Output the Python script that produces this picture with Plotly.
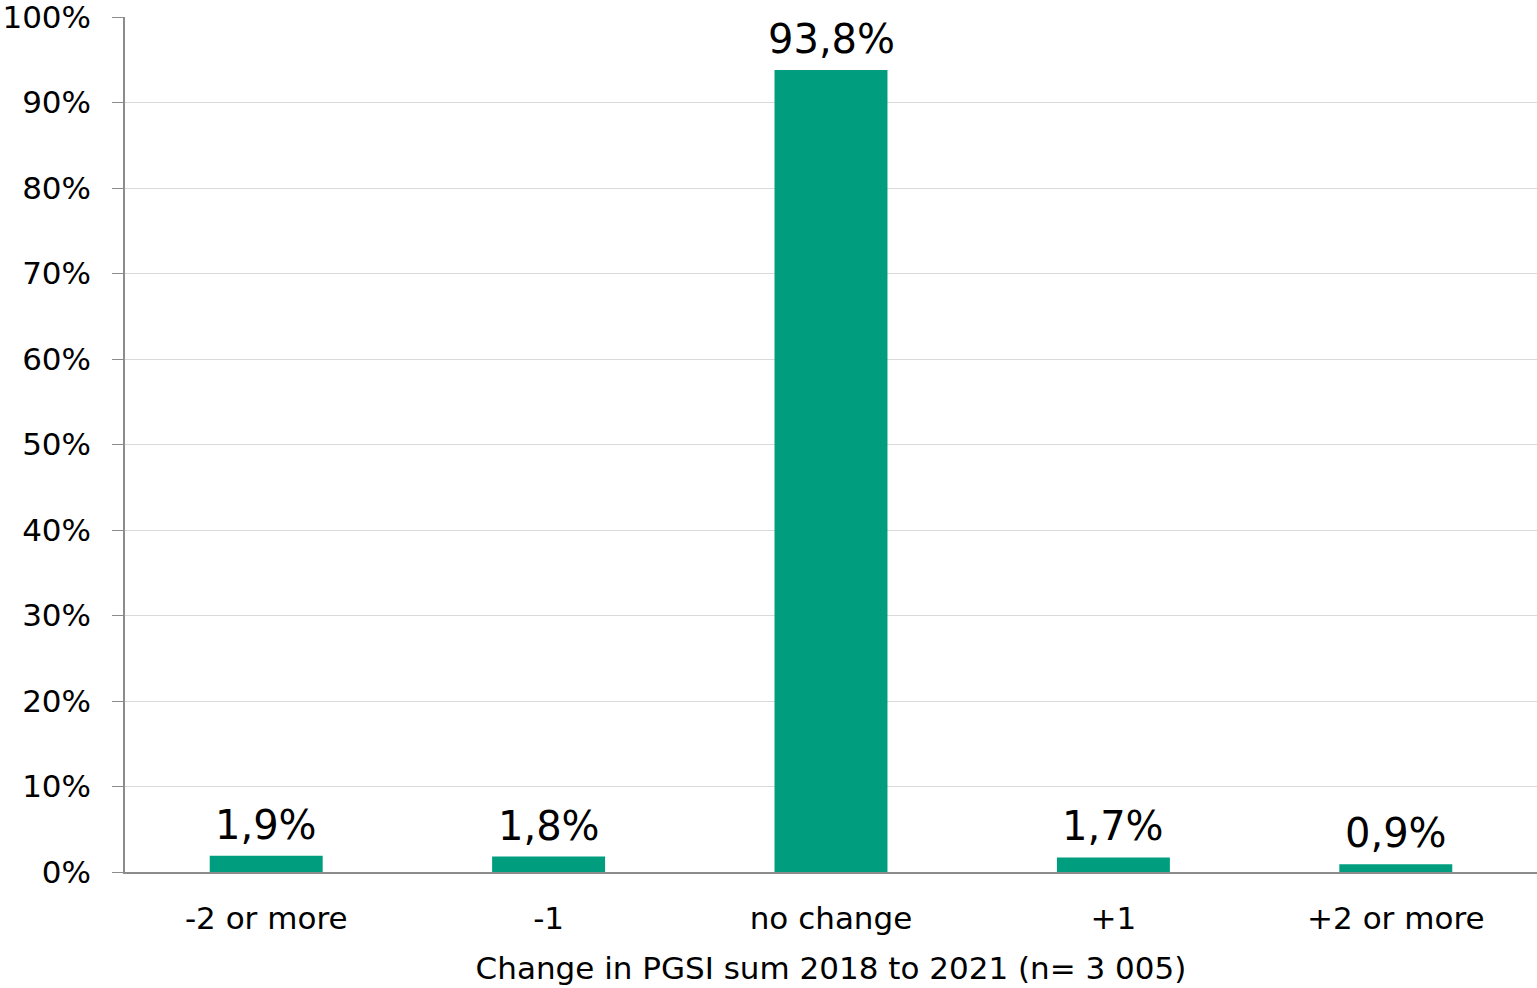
import plotly.graph_objects as go

categories = ["-2 or more", "-1", "no change", "+1", "+2 or more"]
shares = [1.9, 1.8, 93.8, 1.7, 0.9]
y_ticks = [0, 10, 20, 30, 40, 50, 60, 70, 80, 90, 100]

labels = [f"{v:.1f}%".replace(".", ",") for v in shares]

fig = go.Figure(
    go.Bar(
        x=categories,
        y=shares,
        marker=dict(color="#009E7E", line=dict(width=0)),
        width=0.4,
    )
)

# value labels above each bar (category index positions)
for idx, (val, lab) in enumerate(zip(shares, labels)):
    fig.add_annotation(
        x=idx, y=val, text=lab, showarrow=False,
        xref="x", yref="y",
        yanchor="bottom", yshift=6,
        font=dict(size=40, color="#000000"),
    )

fig.update_layout(
    width=1537,
    height=988,
    margin=dict(l=125, r=0, t=17, b=116),
    paper_bgcolor="white",
    plot_bgcolor="white",
    font=dict(family="DejaVu Sans", size=31, color="#000000"),
    showlegend=False,
    bargap=0.6,
)

fig.update_xaxes(
    type="category",
    title=dict(text="Change in PGSI sum 2018 to 2021 (n= 3 005)", standoff=22,
               font=dict(size=31)),
    showline=True,
    linecolor="#8c8c8c",
    linewidth=1.5,
    ticks="",
    showgrid=False,
    tickfont=dict(size=31),
    ticklabelstandoff=18,
)

fig.update_yaxes(
    range=[0, 100],
    tickvals=y_ticks,
    ticktext=[f"{t}%" for t in y_ticks],
    showline=True,
    linecolor="#8c8c8c",
    linewidth=1.5,
    ticks="outside",
    ticklen=11,
    tickcolor="#8c8c8c",
    showgrid=True,
    gridcolor="#d9d9d9",
    gridwidth=1,
    zeroline=False,
    tickfont=dict(size=31),
    ticklabelstandoff=15,
    ticklabeloverflow="allow",
)

fig.write_html("out.html")
